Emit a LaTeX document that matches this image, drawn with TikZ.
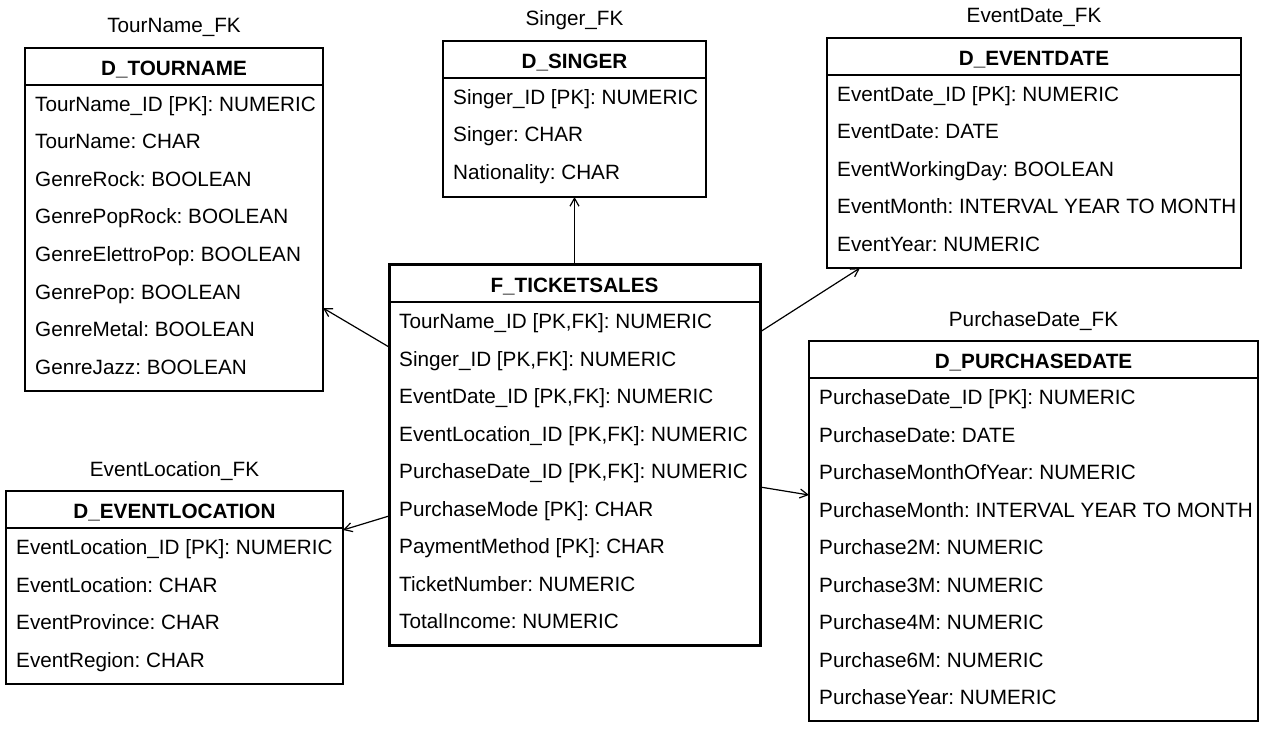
\documentclass[tikz,border=0pt]{standalone}
\usepackage{fontspec}
\setmainfont{Liberation Sans}
\usetikzlibrary{arrows.meta}
\tikzset{
  thinbox/.style={draw=black, line width=1.2pt, rectangle, inner sep=0pt, outer sep=0pt},
  thickbox/.style={draw=black, line width=3pt, rectangle, inner sep=0pt, outer sep=0pt},
  sepline/.style={draw=black, line width=1.2pt},
  rowtext/.style={anchor=base west, inner sep=0pt},
  titletext/.style={anchor=base, inner sep=0pt, font=\bfseries},
  fktext/.style={anchor=base, inner sep=0pt},
  rel/.style={draw=black, line width=1.2pt, -{Straight Barb[length=8pt,width=9pt,line width=1.2pt]}},
}
% #1 style #2 name #3 left #4 top #5 right #6 bottom #7 title #8 fk label #9 rows
\newcommand\ertable[9]{%
  \node[#1, anchor=north west, minimum width={(#5-#3)*1pt}, minimum height={(#6-#4)*1pt}] (#2) at (#3,#4) {};
  \draw[sepline] ([yshift=-37pt]#2.north west) -- ([yshift=-37pt]#2.north east);
  \node[titletext] (#2-title) at ({(#3+#5)/2}, #4+27.5) {#7};
  \node[fktext] (#2-fk) at ({(#3+#5)/2}, #4-15) {#8};
  \foreach \t [count=\i] in {#9} {
    \node[rowtext] (#2-r\i) at (#3+10, #4+63.5+37.5*\i-37.5) {\t};
  }
}
\begin{document}
\begin{tikzpicture}[x=1pt,y=-1pt]
\fontsize{20.7}{24}\selectfont\frenchspacing
\fill[white] (0,0) rectangle (1267,730);
\useasboundingbox (0,0) rectangle (1267,730);

\ertable{thinbox}{TN}{25}{48}{323}{391}{D\_TOURNAME}{TourName\_FK}{
  {TourName\_ID [PK]: NUMERIC},
  {TourName: CHAR},
  {GenreRock: BOOLEAN},
  {GenrePopRock: BOOLEAN},
  {GenreElettroPop: BOOLEAN},
  {GenrePop: BOOLEAN},
  {GenreMetal: BOOLEAN},
  {GenreJazz: BOOLEAN}}

\ertable{thinbox}{SG}{443}{41}{706}{197}{D\_SINGER}{Singer\_FK}{
  {Singer\_ID [PK]: NUMERIC},
  {Singer: CHAR},
  {Nationality: CHAR}}

\ertable{thinbox}{ED}{827}{38}{1241}{268}{D\_EVENTDATE}{EventDate\_FK}{
  {EventDate\_ID [PK]: NUMERIC},
  {EventDate: DATE},
  {EventWorkingDay: BOOLEAN},
  {EventMonth: INTERVAL YEAR TO MONTH},
  {EventYear: NUMERIC}}

\ertable{thickbox}{F}{389}{265}{760}{645}{F\_TICKETSALES}{}{
  {TourName\_ID [PK,FK]: NUMERIC},
  {Singer\_ID [PK,FK]: NUMERIC},
  {EventDate\_ID [PK,FK]: NUMERIC},
  {EventLocation\_ID [PK,FK]: NUMERIC},
  {PurchaseDate\_ID [PK,FK]: NUMERIC},
  {PurchaseMode [PK]: CHAR},
  {PaymentMethod [PK]: CHAR},
  {TicketNumber: NUMERIC},
  {TotalIncome: NUMERIC}}

\ertable{thinbox}{PD}{809}{341}{1258}{721}{D\_PURCHASEDATE}{PurchaseDate\_FK}{
  {PurchaseDate\_ID [PK]: NUMERIC},
  {PurchaseDate: DATE},
  {PurchaseMonthOfYear: NUMERIC},
  {PurchaseMonth: INTERVAL YEAR TO MONTH},
  {Purchase2M: NUMERIC},
  {Purchase3M: NUMERIC},
  {Purchase4M: NUMERIC},
  {Purchase6M: NUMERIC},
  {PurchaseYear: NUMERIC}}

\ertable{thinbox}{EL}{6}{491}{343}{684}{D\_EVENTLOCATION}{EventLocation\_FK}{
  {EventLocation\_ID [PK]: NUMERIC},
  {EventLocation: CHAR},
  {EventProvince: CHAR},
  {EventRegion: CHAR}}

\draw[rel] (F.west |- 0,347) -- (TN.east |- 0,308);
\draw[rel] (F.north) -- (SG.south);
\draw[rel] (F.east |- 0,332) -- (ED.south -| 860,0);
\draw[rel] (F.east |- 0,487) -- (PD.west |- 0,495);
\draw[rel] (F.west |- 0,516) -- (EL.east |- 0,530);
\end{tikzpicture}
\end{document}
